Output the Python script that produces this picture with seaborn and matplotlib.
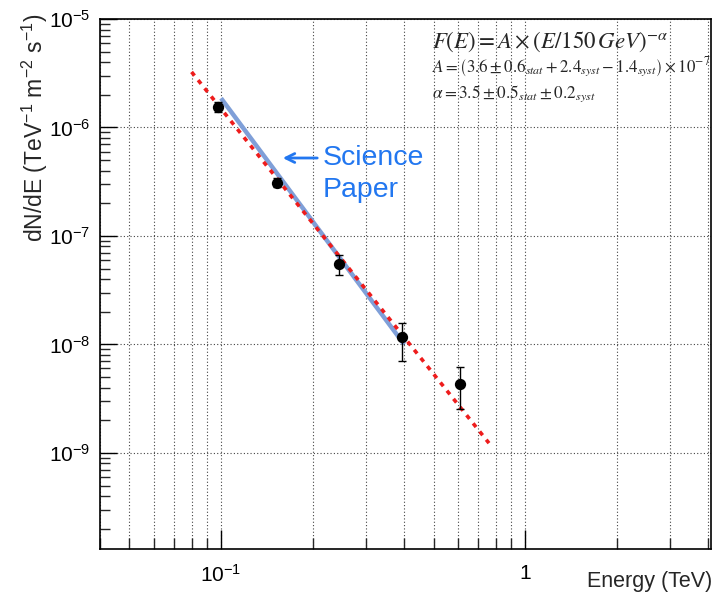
import numpy as np
import pandas as pd
import matplotlib
matplotlib.use("Agg")
import matplotlib.pyplot as plt
from matplotlib.ticker import LogLocator, FixedLocator, FixedFormatter, NullFormatter
import seaborn as sns

# Measured spectral points (TeV, TeV^-1 m^-2 s^-1)
energy = [0.098, 0.153, 0.245, 0.392, 0.612]
flux = [1.53e-6, 3.1e-7, 5.5e-8, 1.16e-8, 4.35e-9]
flux_err_low = [0.15e-6, 0.3e-7, 1.15e-8, 0.45e-8, 1.8e-9]
flux_err_high = [0.17e-6, 0.3e-7, 1.2e-8, 0.40e-8, 1.9e-9]

# Power-law fit F(E) = A (E / 150 GeV)^-alpha
fit_norm = 3.6e-7
fit_index = 3.5
fit_pivot = 0.15
fit_range = [0.08, 0.76]

# Published spectrum
paper_energy = [0.1, 0.4]
paper_flux = [1.86e-6, 1.0e-8]

x_tick_values = [0.1, 1.0]
x_tick_labels = [r"$10^{-1}$", "1"]
y_tick_values = [1e-9, 1e-8, 1e-7, 1e-6, 1e-5]
y_tick_labels = [r"$10^{-9}$", r"$10^{-8}$", r"$10^{-7}$", r"$10^{-6}$", r"$10^{-5}$"]

sns.set_theme(style="white")
plt.rcParams["font.family"] = ["Liberation Sans", "DejaVu Sans"]
plt.rcParams["mathtext.fontset"] = "custom"
plt.rcParams["mathtext.rm"] = "Liberation Sans"
plt.rcParams["mathtext.it"] = "Liberation Sans:italic"
plt.rcParams["mathtext.default"] = "it"

fig = plt.figure(figsize=(7.16, 5.97), dpi=100)
ax = fig.add_axes([100 / 716, 1 - 549 / 597, 611 / 716, 530 / 597])

fit_e = np.geomspace(fit_range[0], fit_range[1], 50)
fit_df = pd.DataFrame({"E": fit_e, "F": fit_norm * (fit_e / fit_pivot) ** (-fit_index)})
paper_df = pd.DataFrame({"E": paper_energy, "F": paper_flux})
pts_df = pd.DataFrame({"E": energy, "F": flux})

sns.lineplot(data=paper_df, x="E", y="F", ax=ax, color="#7f9fd8", lw=3.2,
             solid_capstyle="butt", zorder=3)
sns.lineplot(data=fit_df, x="E", y="F", ax=ax, color="#ee1c1c", lw=2.6,
             linestyle=(0, (1.3, 1.6)), zorder=4)
ax.errorbar(energy, flux, yerr=[flux_err_low, flux_err_high], fmt="none",
            ecolor="black", elinewidth=1.0, capsize=3, capthick=1.0, zorder=5)
sns.scatterplot(data=pts_df, x="E", y="F", ax=ax, color="black", s=66,
                edgecolor="black", linewidth=0, zorder=6)

ax.set_xscale("log")
ax.set_yscale("log")
ax.set_xlim(0.04, 4.08)
ax.set_ylim(1.3e-10, 1e-5)

ax.xaxis.set_major_locator(FixedLocator(x_tick_values))
ax.xaxis.set_major_formatter(FixedFormatter(x_tick_labels))
ax.xaxis.set_minor_locator(LogLocator(base=10, subs=np.arange(2, 10)))
ax.xaxis.set_minor_formatter(NullFormatter())
ax.yaxis.set_major_locator(FixedLocator(y_tick_values))
ax.yaxis.set_major_formatter(FixedFormatter(y_tick_labels))
ax.yaxis.set_minor_locator(LogLocator(base=10, subs=np.arange(2, 10)))
ax.yaxis.set_minor_formatter(NullFormatter())

ax.tick_params(axis="x", which="major", direction="in", length=14, width=1,
               labelsize=15, pad=11, colors="black")
ax.tick_params(axis="x", which="minor", direction="in", length=8, width=1)
ax.tick_params(axis="y", which="major", direction="in", length=12, width=1,
               labelsize=15, pad=7, colors="black")
ax.tick_params(axis="y", which="minor", direction="in", length=7, width=1)
ax.tick_params(which="both", bottom=True, left=True, top=False, right=False)

grid_kw = dict(color="#444444", linestyle=(0, (1, 2)), linewidth=0.8)
ax.grid(True, axis="x", which="both", **grid_kw)
ax.grid(True, axis="y", which="major", **grid_kw)

for side in ["left", "right", "top", "bottom"]:
    ax.spines[side].set_visible(True)
    ax.spines[side].set_color("black")
    ax.spines[side].set_linewidth(1.2)

ax.set_xlabel("")
ax.set_ylabel("")
fig.text(35 / 716, 1 - 14 / 597, r"dN/dE (TeV$^{-1}$ m$^{-2}$ s$^{-1}$)",
         rotation=90, ha="center", va="top", fontsize=16.5)
fig.text(712 / 716, 1 - 582 / 597, "Energy (TeV)", ha="right", va="center",
         fontsize=15.5)

# Annotation for the published spectrum
blue = "#2277f0"
ax.annotate("", xy=(280, 597 - 158), xycoords="figure pixels",
            xytext=(320, 597 - 158), textcoords="figure pixels",
            arrowprops=dict(arrowstyle="->", color=blue, lw=2,
                            mutation_scale=16))
fig.text(323 / 716, 1 - 158 / 597, "Science", color=blue, fontsize=20.5,
         ha="left", va="center")
fig.text(323 / 716, 1 - 190 / 597, "Paper", color=blue, fontsize=20.5,
         ha="left", va="center")

# Fit formula
fig.text(432 / 716, 1 - 42 / 597,
         r"$F\left(E\right)=A\times\left(E/150\,GeV\right)^{-\alpha}$",
         fontsize=16.5, ha="left", va="center", math_fontfamily="stix")
fig.text(432 / 716, 1 - 67 / 597,
         r"$A=\left(3.6\pm0.6_{stat}+2.4_{syst}-1.4_{syst}\right)\times10^{-7}$",
         fontsize=12.2, ha="left", va="center", math_fontfamily="stix")
fig.text(432 / 716, 1 - 94 / 597,
         r"$\alpha=3.5\pm0.5_{stat}\pm0.2_{syst}$",
         fontsize=12.4, ha="left", va="center", math_fontfamily="stix")

fig.savefig("out.png", dpi=100, facecolor="white")
